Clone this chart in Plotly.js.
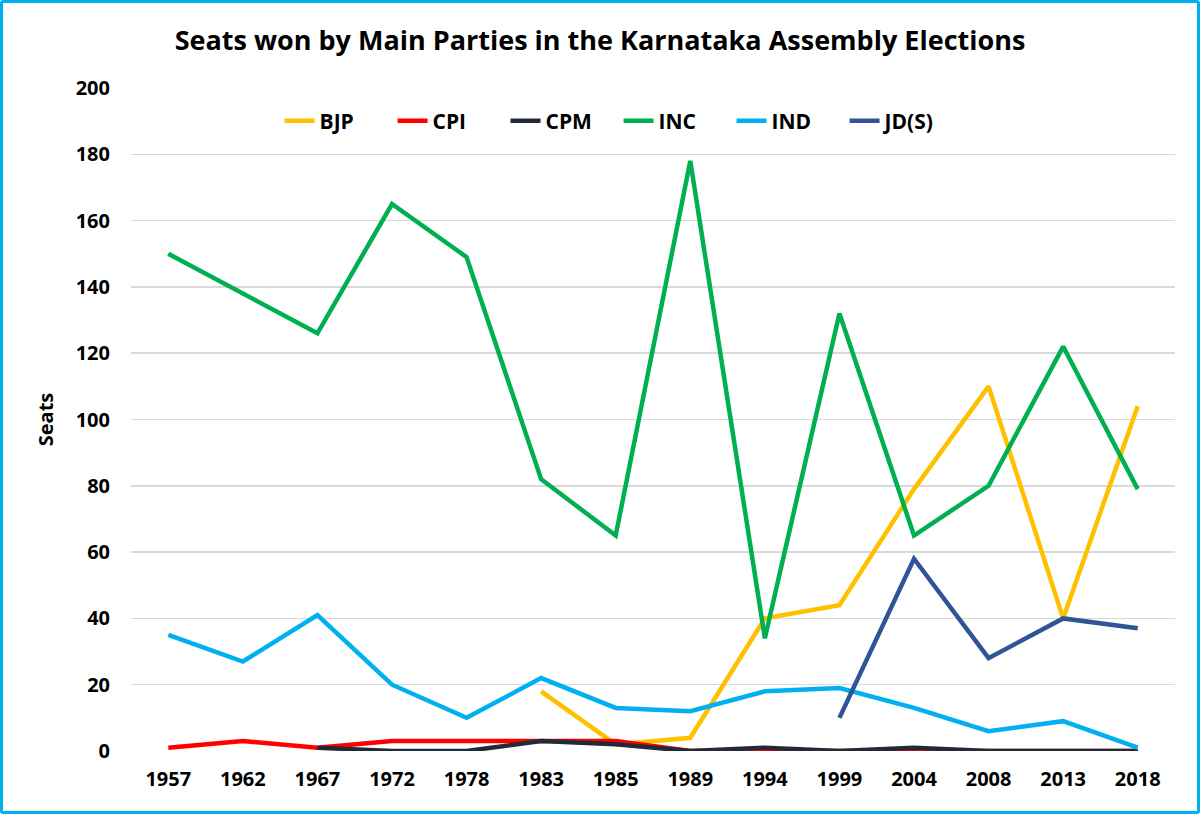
<!DOCTYPE html>
<html>
<head>
<meta charset="utf-8">
<script src="https://cdn.plot.ly/plotly-3.0.1.min.js"></script>
<style>
html,body{margin:0;padding:0;background:#fff;}
#wrap{width:1200px;height:814px;box-sizing:border-box;border:3px solid #00B0F0;border-radius:3px;overflow:hidden;}
#chart{width:1194px;height:808px;}
</style>
</head>
<body>
<div id="wrap"><div id="chart"></div></div>
<script>
const years = ["1957","1962","1967","1972","1978","1983","1985","1989","1994","1999","2004","2008","2013","2018"];
const bjp = [null,null,null,null,null,18,2,4,40,44,79,110,40,104];
const cpi = [1,3,1,3,3,3,3,0,0,0,0,0,0,0];
const cpm = [null,null,1,0,0,3,2,0,1,0,1,0,0,0];
const inc = [150,138,126,165,149,82,65,178,34,132,65,80,122,79];
const ind = [35,27,41,20,10,22,13,12,18,19,13,6,9,1];
const jds = [null,null,null,null,null,null,null,null,null,10,58,28,40,37];
const yTicks = [0,20,40,60,80,100,120,140,160,180,200];

const names = ["BJP","CPI","CPM","INC","IND","JD(S)"];
const series = [bjp,cpi,cpm,inc,ind,jds];
const colors = ["#FFC000","#FF0000","#222A35","#00B050","#00B0F0","#2F5597"];

const traces = names.map((n,i)=>({
  x: years, y: series[i], name: n, type: "scatter", mode: "lines",
  line: {color: colors[i], width: 4.5},
  connectgaps: false
}));

const font = "'Open Sans', sans-serif";
const layout = {
  width: 1194, height: 808,
  margin: {l: 128, r: 22, t: 85, b: 60},
  paper_bgcolor: "#fff", plot_bgcolor: "#fff",
  font: {family: font, color: "#000", size: 20},
  title: {text: "<b>Seats won by Main Parties in the Karnataka Assembly Elections</b>",
          x: 0.5, xanchor: "center", y: 0.953, yanchor: "middle",
          font: {family: font, size: 27, color: "#000"}},
  xaxis: {type: "category", range: [-0.5, 13.5], showgrid: false, zeroline: false,
          showline: false, ticks: "", tickfont: {family: font, size: 20, color: "#000", weight: "bold"},
          ticklabelstandoff: 14, fixedrange: true},
  yaxis: {range: [0, 200], tickvals: yTicks, showgrid: true, gridcolor: "#D9D9D9", gridwidth: 1.5,
          zeroline: false, showline: false, ticks: "",
          tickfont: {family: font, size: 20, color: "#000", weight: "bold"},
          ticklabelstandoff: 20,
          title: {text: "<b>Seats</b>", font: {family: font, size: 20, color: "#000"}, standoff: 16}},
  legend: {orientation: "h", x: 0.467, xanchor: "center", y: 0.95, yanchor: "middle",
           font: {family: font, size: 21, color: "#000", weight: "bold"},
           bgcolor: "rgba(0,0,0,0)", itemwidth: 30, tracegroupgap: 0,
           entrywidth: 68, entrywidthmode: "pixels"},
  showlegend: true
};
Plotly.newPlot("chart", traces, layout, {staticPlot: true, displayModeBar: false});
</script>
</body>
</html>
